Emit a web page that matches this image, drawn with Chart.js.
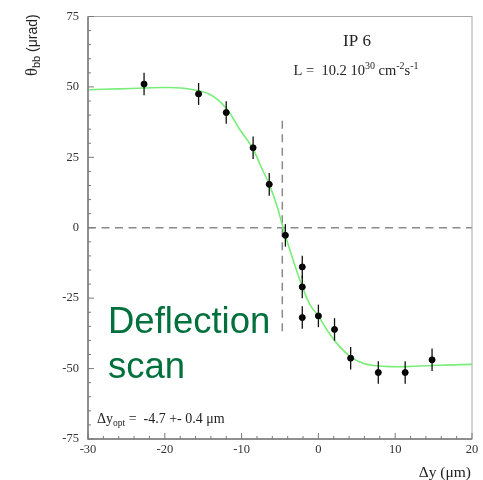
<!DOCTYPE html>
<html>
<head>
<meta charset="utf-8">
<script src="https://cdn.jsdelivr.net/npm/chart.js@4"></script>
<style>
  body { margin: 0; background: #fff; }
  #wrap { width: 483px; height: 480px; }
</style>
</head>
<body>
<div id="wrap"><canvas id="myChart"></canvas></div>
<script>
// measured points (delta y in um, theta in urad) with errors
const scanX = [-22.7, -15.6, -12.0, -8.5, -6.4, -4.3, -2.1, -2.1, -2.1, 0.0, 2.1, 4.2, 7.8, 11.3, 14.8];
const scanY = [51.0, 47.5, 40.9, 28.4, 15.4, -2.7, -13.9, -21.0, -31.9, -31.3, -36.1, -46.3, -51.4, -51.4, -46.9];
const scanErr = [4.0, 3.9, 4.0, 4.0, 4.0, 4.0, 4.0, 4.0, 4.0, 4.0, 4.0, 4.0, 4.0, 4.0, 4.0];

// fit curve
const fitX = [-30, -26, -22.8, -19.8, -16.7, -14.1, -12.0, -10.2, -8.6, -7.4, -6.4, -5.4, -4.6, -3.7, -2.1, -1.1, 0, 1.5, 2.8, 4.3, 5.9, 7.6, 9.3, 11.5, 14.9, 20];
const fitY = [49.0, 49.3, 49.6, 49.8, 49.2, 47.3, 42.4, 34.7, 28.4, 21.2, 15.4, 7.8, 0, -8.0, -20.9, -27.3, -31.4, -37.8, -42.3, -46.0, -48.2, -49.0, -49.3, -49.3, -48.9, -48.5];

const xTicks = [-30, -20, -10, 0, 10, 20];
const yTicks = [-75, -50, -25, 0, 25, 50, 75];
const yOpt = -4.7;
const vLineRange = [-37, 38];

const serif = "'Liberation Serif', 'Times New Roman', serif";
const sans = "'Liberation Sans', Arial, sans-serif";

function richText(ctx, parts, x, y) {
  // parts: [text, size, raise, family]
  let cx = x;
  parts.forEach(p => {
    ctx.font = p[1] + "px " + (p[3] || serif);
    ctx.fillText(p[0], cx, y - p[2]);
    cx += ctx.measureText(p[0]).width;
  });
  return cx - x;
}
function richWidth(ctx, parts) {
  let w = 0;
  parts.forEach(p => { ctx.font = p[1] + "px " + (p[3] || serif); w += ctx.measureText(p[0]).width; });
  return w;
}

const decor = {
  id: 'decor',
  beforeDatasetsDraw(chart) {
    const {ctx, scales: {x, y}} = chart;
    ctx.save();
    ctx.strokeStyle = '#8a8a8a';
    ctx.lineWidth = 1.5;
    ctx.setLineDash([8, 5.5]);
    ctx.beginPath();
    ctx.moveTo(x.getPixelForValue(-30), y.getPixelForValue(0));
    ctx.lineTo(x.getPixelForValue(20), y.getPixelForValue(0));
    ctx.moveTo(x.getPixelForValue(yOpt), y.getPixelForValue(vLineRange[1]));
    ctx.lineTo(x.getPixelForValue(yOpt), y.getPixelForValue(vLineRange[0]));
    ctx.stroke();
    ctx.restore();
  },
  afterDatasetsDraw(chart) {
    const {ctx, scales: {x, y}} = chart;
    ctx.save();
    ctx.strokeStyle = '#111';
    ctx.lineWidth = 1.3;
    scanX.forEach((v, i) => {
      const px = x.getPixelForValue(v);
      ctx.beginPath();
      ctx.moveTo(px, y.getPixelForValue(scanY[i] + scanErr[i]));
      ctx.lineTo(px, y.getPixelForValue(scanY[i] - scanErr[i]));
      ctx.stroke();
    });
    ctx.restore();
  },
  afterDraw(chart) {
    const {ctx, chartArea: a, scales: {x, y}} = chart;
    ctx.save();
    // frame
    ctx.strokeStyle = '#a8a8a8';
    ctx.lineWidth = 1;
    ctx.strokeRect(a.left, a.top, a.right - a.left, a.bottom - a.top);
    ctx.strokeStyle = '#7a7a7a';
    ctx.lineWidth = 1.5;
    ctx.beginPath();
    ctx.moveTo(a.left, a.top);
    ctx.lineTo(a.left, a.bottom);
    ctx.lineTo(a.right, a.bottom);
    ctx.stroke();
    // inner ticks
    ctx.lineWidth = 1;
    ctx.beginPath();
    for (let v = -75; v <= 75; v += 5) {
      const py = y.getPixelForValue(v);
      const len = v % 25 === 0 ? 6 : 3;
      ctx.moveTo(a.left, py);
      ctx.lineTo(a.left + len, py);
    }
    for (let v = -30; v <= 20; v += 2) {
      const px = x.getPixelForValue(v);
      const len = v % 10 === 0 ? 6 : 3;
      ctx.moveTo(px, a.bottom);
      ctx.lineTo(px, a.bottom - len);
    }
    ctx.stroke();

    ctx.fillStyle = '#222';
    ctx.textBaseline = 'alphabetic';
    ctx.textAlign = 'left';
    // IP 6
    ctx.font = "17px " + serif;
    const ipw = ctx.measureText('IP 6').width;
    ctx.fillText('IP 6', 357 - ipw / 2, 46);
    // luminosity
    const lum = [['L =  10.2 10', 14.5, 0], ['30', 10, 6], [' cm', 14.5, 0], ['-2', 10, 6], ['s', 14.5, 0], ['-1', 10, 6]];
    richText(ctx, lum, 356 - richWidth(ctx, lum) / 2, 75);
    // fitted optimum
    richText(ctx, [['\u0394y', 14, 0], ['opt', 9.5, -3], [' =  -4.7 +- 0.4 \u03bcm', 14, 0]], 97, 423);
    // x axis title
    const xt = [['\u0394y (\u03bcm)', 15.5, 0]];
    richText(ctx, xt, 471 - richWidth(ctx, xt), 477);

    // y axis title (rotated)
    ctx.translate(37, 76);
    ctx.rotate(-Math.PI / 2);
    richText(ctx, [['\u03b8', 16.5, 0], ['bb', 11, -3, sans], [' (\u03bcrad)', 14, 0, sans]], 0, 0);
    ctx.restore();

    // green annotation
    ctx.save();
    ctx.fillStyle = '#00703c';
    ctx.font = "36.5px " + sans;
    ctx.textAlign = 'left';
    ctx.fillText('Deflection', 108, 333);
    ctx.fillText('scan', 108, 378);
    ctx.restore();
  }
};

const canvas = document.getElementById('myChart');
const myChart = new Chart(canvas, {
  type: 'scatter',
  data: {
    datasets: [{
      type: 'line',
      data: fitX.map((v, i) => ({x: v, y: fitY[i]})),
      borderColor: '#78ee78',
      borderWidth: 1.6,
      pointRadius: 0,
      tension: 0.4,
      fill: false,
      order: 2
    }, {
      data: scanX.map((v, i) => ({x: v, y: scanY[i]})),
      backgroundColor: '#000',
      borderColor: '#000',
      pointRadius: 3,
      order: 1
    }]
  },
  options: {
    responsive: true,
    maintainAspectRatio: false,
    animation: false,
    layout: { padding: { top: 12, right: 11, left: 0, bottom: 0 } },
    plugins: { legend: { display: false }, tooltip: { enabled: false } },
    scales: {
      x: {
        type: 'linear', min: -30, max: 20,
        afterBuildTicks: s => { s.ticks = xTicks.map(v => ({value: v})); },
        afterFit: s => { s.height = 41; },
        grid: { display: false, drawTicks: false },
        border: { display: false },
        ticks: { padding: 3, color: '#333', font: { family: serif, size: 12.5 } }
      },
      y: {
        type: 'linear', min: -75, max: 75,
        afterBuildTicks: s => { s.ticks = yTicks.map(v => ({value: v})); },
        afterFit: s => { s.width = 88; },
        grid: { display: false, drawTicks: false },
        border: { display: false },
        ticks: { padding: 9, color: '#333', font: { family: serif, size: 12.5 } }
      }
    }
  },
  plugins: [decor]
});
</script>
</body>
</html>
